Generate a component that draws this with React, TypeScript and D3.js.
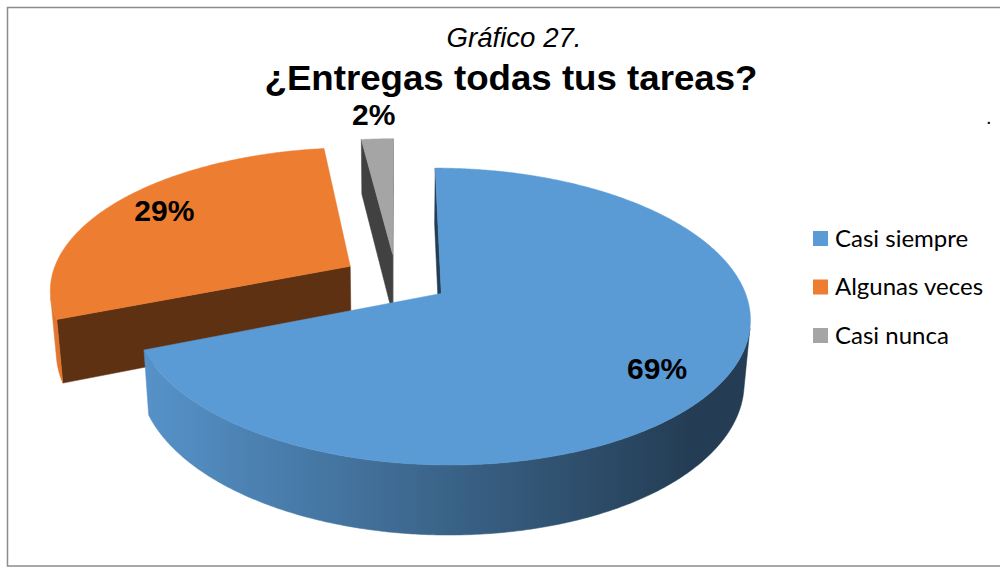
import React, { useEffect, useRef } from "react";
import * as d3 from "d3";

const categories = ["Casi siempre", "Algunas veces", "Casi nunca"];
const percentages = [69, 29, 2];
const labelTexts = ["69%", "29%", "2%"];
const subtitle = "Gráfico 27.";
const title = "¿Entregas todas tus tareas?";

const palette = ["#5B9BD5", "#ED7D31", "#A5A5A5"];

const width = 1000;
const height = 567;

// rough 3d camera, tuned by eye against the excel picture
const view = {
  cx: 396,
  cy: 279,
  kx: 1746,
  ky: 1819,
  dist: 5.83,
  tilt: Math.asin(0.45),
  thick: 0.225,
  explode: 0.18,
};
const labelRadius = [0.8, 0.8, 1.27];
const labelShift = [[-4, 5], [3, -4], [0, 2]];

type P3 = [number, number, number];

export default function App() {
  const ref = useRef<SVGSVGElement>(null);

  useEffect(() => {
    const svg = d3.select(ref.current);
    svg.selectAll("*").remove();

    const s = Math.sin(view.tilt);
    const c = Math.cos(view.tilt);
    const camera: P3 = [0, view.dist * s, -view.dist * c];
    const project = ([x, y, z]: P3): [number, number] => {
      const w = view.dist - y * s + z * c;
      return [view.cx + (view.kx * x) / w, view.cy - (view.ky * (y * c + z * s)) / w];
    };
    const faces = (n: P3, p: P3) =>
      n[0] * (camera[0] - p[0]) + n[1] * (camera[1] - p[1]) + n[2] * (camera[2] - p[2]) > 0;

    const color = d3.scaleOrdinal<string, string>().domain(categories).range(palette);
    const pie = d3
      .pie<number>()
      .sort(null)
      .value((d) => d)
      .startAngle(0)
      .endAngle(2 * Math.PI);
    const arcs = pie(percentages);
    const line = d3.line().curve(d3.curveLinearClosed);

    const defs = svg.append("defs");

    // chart frame (right edge falls outside the picture)
    svg
      .append("rect")
      .attr("x", 7.5)
      .attr("y", 7.5)
      .attr("width", 1100)
      .attr("height", 558.5)
      .attr("fill", "#fff")
      .attr("stroke", "#8c8c8c")
      .attr("stroke-width", 1.5);

    const slices = arcs.map((a, i) => {
      const m = (a.startAngle + a.endAngle) / 2;
      const ex = view.explode * Math.sin(m);
      const ez = view.explode * Math.cos(m);
      const pt = (t: number, r: number, y: number): P3 => [
        ex + r * Math.sin(t),
        y,
        ez + r * Math.cos(t),
      ];
      return { a, i, m, ex, ez, pt };
    });

    const g = svg.append("g");
    const h = -view.thick;

    slices
      .slice()
      .sort((p, q) => q.ez - p.ez)
      .forEach(({ a, i, ex, ez, pt }) => {
        const col = color(categories[i]);
        const dark = d3.color(col)!.darker(2.6).formatHex();
        const a0 = a.startAngle;
        const a1 = a.endAngle;
        const apex: P3 = [ex, 0, ez];

        const gid = `rim${i}`;
        const grad = defs
          .append("linearGradient")
          .attr("id", gid)
          .attr("gradientUnits", "userSpaceOnUse")
          .attr("x1", 140)
          .attr("x2", 690)
          .attr("y1", 0)
          .attr("y2", 0);
        grad.append("stop").attr("offset", 0).attr("stop-color", d3.color(col)!.darker(0.15).formatHex());
        grad.append("stop").attr("offset", 1).attr("stop-color", d3.color(col)!.darker(2.6).formatHex());

        // cut faces
        const cuts: [number, P3][] = [
          [a0, [-Math.cos(a0), 0, Math.sin(a0)]],
          [a1, [Math.cos(a1), 0, -Math.sin(a1)]],
        ];
        cuts.forEach(([t, n]) => {
          if (!faces(n, apex)) return;
          const poly = [pt(t, 0, 0), pt(t, 1, 0), pt(t, 1, h), pt(t, 0, h)].map(project);
          g.append("path").attr("d", line(poly)).attr("fill", dark).attr("stroke", dark).attr("stroke-width", 0.5);
        });

        // outer rim, only the part turned to the camera
        const n = Math.max(2, Math.ceil((a1 - a0) / (Math.PI / 360)));
        const ts = d3.range(n + 1).map((k) => a0 + ((a1 - a0) * k) / n);
        let run: number[] = [];
        const runs: number[][] = [];
        ts.forEach((t) => {
          const ok = faces([Math.sin(t), 0, Math.cos(t)], pt(t, 1, 0));
          if (ok) run.push(t);
          else if (run.length) {
            runs.push(run);
            run = [];
          }
        });
        if (run.length) runs.push(run);
        runs
          .filter((r) => r.length > 1)
          .forEach((r) => {
            const top = r.map((t) => project(pt(t, 1, 0)));
            const bot = r
              .slice()
              .reverse()
              .map((t) => project(pt(t, 1, h)));
            g.append("path")
              .attr("d", line([...top, ...bot]))
              .attr("fill", `url(#${gid})`)
              .attr("stroke", `url(#${gid})`)
              .attr("stroke-width", 0.5);
          });

        // top face
        const topPoly = [project(apex), ...ts.map((t) => project(pt(t, 1, 0)))];
        g.append("path").attr("d", line(topPoly)).attr("fill", col).attr("stroke", col).attr("stroke-width", 0.5);
      });

    // data labels
    svg
      .append("g")
      .selectAll("text")
      .data(slices)
      .enter()
      .append("text")
      .attr("x", (d) => project(d.pt(d.m, labelRadius[d.i], 0))[0] + labelShift[d.i][0])
      .attr("y", (d) => project(d.pt(d.m, labelRadius[d.i], 0))[1] + labelShift[d.i][1])
      .attr("dy", "0.36em")
      .attr("text-anchor", "middle")
      .attr("font-family", "'Liberation Sans', Arial, sans-serif")
      .attr("font-weight", "bold")
      .attr("font-size", 30)
      .attr("fill", "#000")
      .text((d) => labelTexts[d.i]);

    // titles
    svg
      .append("text")
      .attr("x", 514)
      .attr("y", 47)
      .attr("text-anchor", "middle")
      .attr("font-family", "'Liberation Sans', Arial, sans-serif")
      .attr("font-style", "italic")
      .attr("font-size", 27)
      .attr("textLength", 135)
      .attr("lengthAdjust", "spacingAndGlyphs")
      .text(subtitle);
    svg
      .append("text")
      .attr("x", 511)
      .attr("y", 90)
      .attr("text-anchor", "middle")
      .attr("font-family", "'Liberation Sans', Arial, sans-serif")
      .attr("font-weight", "bold")
      .attr("font-size", 35)
      .attr("textLength", 493)
      .attr("lengthAdjust", "spacingAndGlyphs")
      .text(title);

    svg
      .append("text")
      .attr("x", 986)
      .attr("y", 124)
      .attr("font-family", "'Liberation Sans', Arial, sans-serif")
      .attr("font-size", 20)
      .text(".");

    // legend
    const legend = svg
      .append("g")
      .selectAll("g")
      .data(categories)
      .enter()
      .append("g")
      .attr("transform", (d, i) => `translate(813, ${238.5 + i * 48.5})`);
    legend
      .append("rect")
      .attr("x", 0)
      .attr("y", -7.5)
      .attr("width", 15)
      .attr("height", 15)
      .attr("fill", (d) => color(d));
    legend
      .append("text")
      .attr("x", 22)
      .attr("y", 0)
      .attr("dy", "0.35em")
      .attr("font-family", "Lato, 'Open Sans', sans-serif")
      .attr("font-size", 24)
      .attr("fill", "#000")
      .text((d) => d);
  }, []);

  return (
    <div style={{ position: "absolute", left: 0, top: 0 }}>
      <svg ref={ref} width={width} height={height}></svg>
    </div>
  );
}
